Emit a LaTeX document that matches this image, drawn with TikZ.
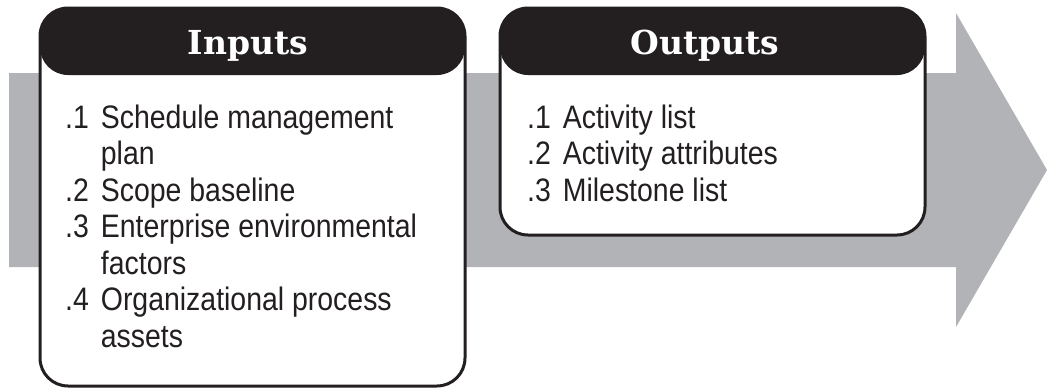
\documentclass[tikz,border=0pt]{standalone}
\usepackage{fontspec}
\setmainfont{Liberation Sans}[FakeStretch=0.875]
\newfontfamily\headfont{DejaVu Serif}
\definecolor{boxblack}{HTML}{231F20}
\definecolor{arrowgray}{HTML}{B2B3B6}
\begin{document}
\begin{tikzpicture}[
  x=1pt, y=-1pt,
  box/.style={
    draw=boxblack,
    line width=3pt,
    fill=white,
    rounded corners=28pt,
    inner sep=0pt,
    minimum width=425pt,
    path picture={\fill[boxblack] (path picture bounding box.north west) rectangle ([yshift=-67pt]path picture bounding box.north east);}
  },
  head/.style={
    text=white,
    font=\headfont\bfseries\fontsize{33}{38}\selectfont,
    anchor=base,
    inner sep=0pt
  },
  list/.style={
    anchor=base west,
    inner sep=0pt,
    text=boxblack,
    font=\fontsize{32.5}{36.5}\selectfont
  }
]
\useasboundingbox (0,0) rectangle (1047,388);
% process arrow behind the boxes
\fill[arrowgray] (9,73) -- (956,73) -- (956,13) -- (1047,170) -- (956,327) -- (956,267) -- (9,267) -- cycle;

\node[box, minimum height=378pt] (inputs) at (252.5,197) {};
\node[box, minimum height=227pt] (outputs) at (712.5,121.5) {};

\node[head] (inhead) at (248,54) {Inputs};
\node[head] (outhead) at (705,54) {Outputs};

\node[list] (inlist) at (65,128) {%
  \begin{tabular}[t]{@{}l@{\hspace{12pt}}l@{}}
  .1 & Schedule management\\
     & plan\\
  .2 & Scope baseline\\
  .3 & Enterprise environmental\\
     & factors\\
  .4 & Organizational process\\
     & assets
  \end{tabular}};
\node[list] (outlist) at (527,128) {%
  \begin{tabular}[t]{@{}l@{\hspace{12pt}}l@{}}
  .1 & Activity list\\
  .2 & Activity attributes\\
  .3 & Milestone list
  \end{tabular}};
\end{tikzpicture}
\end{document}
